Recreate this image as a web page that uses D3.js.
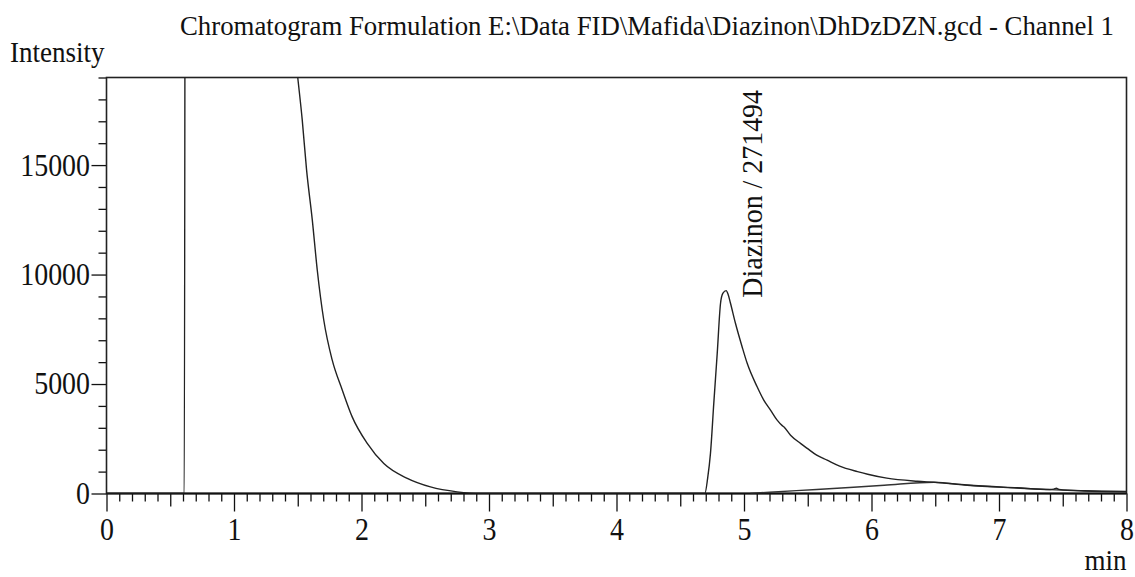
<!DOCTYPE html>
<html>
<head>
<meta charset="utf-8">
<script src="https://cdn.jsdelivr.net/npm/d3@7"></script>
<style>
  body { margin: 0; background: #fff; }
  svg { display: block; }
</style>
</head>
<body>
<div id="chart"></div>
<script>
// Chromatogram trace (time in min, intensity)
const signalTime = [0, 0.61, 0.62, 1.40, 1.48, 1.50, 1.535, 1.569, 1.614, 1.653, 1.704, 1.770, 1.849,
  1.927, 2.045, 2.175, 2.359, 2.541, 2.750, 2.933, 3.2, 4.0, 4.693, 4.715, 4.737, 4.763, 4.790,
  4.816, 4.835, 4.860, 4.875, 4.894, 4.933, 4.985, 5.025, 5.103, 5.155, 5.208, 5.26, 5.30, 5.312,
  5.365, 5.443, 5.496, 5.57, 5.652, 5.75, 5.89, 5.97, 6.12, 6.36, 6.50, 6.75, 7.14, 7.40, 7.43,
  7.45, 7.47, 7.67, 8.0];
const signalValue = [0, 0, 40000, 40000, 20100, 19000, 17075, 14790, 12500, 10210, 7925, 6100, 4730,
  3500, 2290, 1370, 690, 300, 75, 0, 0, 0, 0, 700, 1830, 4115, 6400,
  8690, 9150, 9265, 9100, 8690, 7775, 6705, 5945, 4875, 4265, 3810, 3350, 3100, 3045,
  2665, 2290, 2060, 1750, 1520, 1250, 1000, 880, 700, 560, 510, 385, 260, 185, 200,
  240, 190, 125, 90];

// Integration baseline drawn under the Diazinon peak
const baseTime = [5.05, 5.2, 5.57, 6.1, 6.49, 6.75, 7.14, 7.4, 7.67, 8.0];
const baseValue = [0, 60, 180, 380, 515, 375, 250, 175, 115, 80];

const xTicks = [0, 1, 2, 3, 4, 5, 6, 7, 8];
const yTicks = [0, 5000, 10000, 15000];

const title = "Chromatogram Formulation E:\\Data FID\\Mafida\\Diazinon\\DhDzDZN.gcd - Channel 1";
const peakName = "Diazinon";
const peakArea = 271494;
const peakTime = 4.860;
const peakHeight = 9265;

const W = 1135, H = 577;
const margin = { top: 77.5, right: 8.5, bottom: 83.5, left: 106.5 };
const width = W - margin.left - margin.right;
const height = H - margin.top - margin.bottom;
const serif = "'Liberation Serif', 'Times New Roman', serif";

const svg = d3.select("#chart").append("svg")
  .attr("width", W)
  .attr("height", H);

const g = svg.append("g")
  .attr("transform", `translate(${margin.left},${margin.top})`);

const x = d3.scaleLinear().domain([0, 8]).range([0, width]);
const y = d3.scaleLinear().domain([0, 19000]).range([height, 0]);

// clip the trace to the frame
svg.append("defs").append("clipPath").attr("id", "plot")
  .append("rect").attr("width", width).attr("height", height);

// the original print is a bit tall and narrow: bigger font squeezed back sideways
function condense(sel, k) {
  sel.each(function () {
    const len = this.getComputedTextLength();
    d3.select(this).attr("textLength", len * k).attr("lengthAdjust", "spacingAndGlyphs");
  });
}

// x ticks: minor every 0.1, medium at the half minute, major on whole minutes
const minorX = d3.range(0, 81).map(i => i / 10).filter(v => Math.round(v * 10) % 5 !== 0);
const halfX = d3.range(0, 8).map(i => i + 0.5);

function styleAxis(sel) {
  sel.select(".domain").remove();
  sel.selectAll("line").attr("stroke", "#111").attr("stroke-width", 1.3);
  sel.attr("font-family", serif).attr("font-size", 31);
  sel.selectAll("text").attr("fill", "#111").call(condense, 0.9);
}

g.append("g").attr("transform", `translate(0,${height})`)
  .call(d3.axisBottom(x).tickValues(minorX).tickSize(8).tickFormat(""))
  .call(styleAxis);
g.append("g").attr("transform", `translate(0,${height})`)
  .call(d3.axisBottom(x).tickValues(halfX).tickSize(13).tickFormat(""))
  .call(styleAxis);
g.append("g").attr("transform", `translate(0,${height})`)
  .call(d3.axisBottom(x).tickValues(xTicks).tickSize(18).tickPadding(6).tickFormat(d3.format("d")))
  .call(styleAxis);

// y ticks: minor every 1000, major every 5000
const minorY = d3.range(0, 19001, 1000).filter(v => v % 5000 !== 0);
g.append("g")
  .call(d3.axisLeft(y).tickValues(minorY).tickSize(8).tickFormat(""))
  .call(styleAxis);
g.append("g")
  .call(d3.axisLeft(y).tickValues(yTicks).tickSize(15).tickPadding(1.5).tickFormat(d3.format("d")))
  .call(styleAxis);

// frame
g.append("rect")
  .attr("width", width).attr("height", height)
  .attr("fill", "none").attr("stroke", "#222").attr("stroke-width", 1.6);
g.append("line")
  .attr("x1", 0).attr("x2", width).attr("y1", height).attr("y2", height)
  .attr("stroke", "#111").attr("stroke-width", 1.8);

const line = d3.line().x(d => x(d[0])).y(d => y(d[1])).curve(d3.curveMonotoneX);
const signal = signalTime.map((t, i) => [t, signalValue[i]]);
const baseline = baseTime.map((t, i) => [t, baseValue[i]]);

const trace = g.append("g").attr("clip-path", "url(#plot)");
trace.append("path").datum(baseline)
  .attr("d", line).attr("fill", "none")
  .attr("stroke", "#333").attr("stroke-width", 1.4);
trace.append("path").datum(signal)
  .attr("d", line).attr("fill", "none")
  .attr("stroke", "#222").attr("stroke-width", 1.4)
  .attr("stroke-linejoin", "round");

// peak label, rotated
const lx = x(peakTime) + 36, ly = y(peakHeight) + 7;
g.append("text")
  .attr("transform", `translate(${lx},${ly}) rotate(-90)`)
  .attr("font-family", serif).attr("font-size", 30).attr("fill", "#111")
  .text(`${peakName} / ${peakArea}`)
  .call(condense, 0.93);

// titles
svg.append("text")
  .attr("x", 180).attr("y", 35)
  .attr("font-family", serif).attr("font-size", 26.8).attr("fill", "#111")
  .text(title);
svg.append("text")
  .attr("x", 10).attr("y", 62)
  .attr("font-family", serif).attr("font-size", 30).attr("fill", "#111")
  .text("Intensity")
  .call(condense, 0.9);
svg.append("text")
  .attr("x", margin.left + width).attr("y", 570)
  .attr("text-anchor", "end")
  .attr("font-family", serif).attr("font-size", 30).attr("fill", "#111")
  .text("min")
  .call(condense, 0.9);
</script>
</body>
</html>
